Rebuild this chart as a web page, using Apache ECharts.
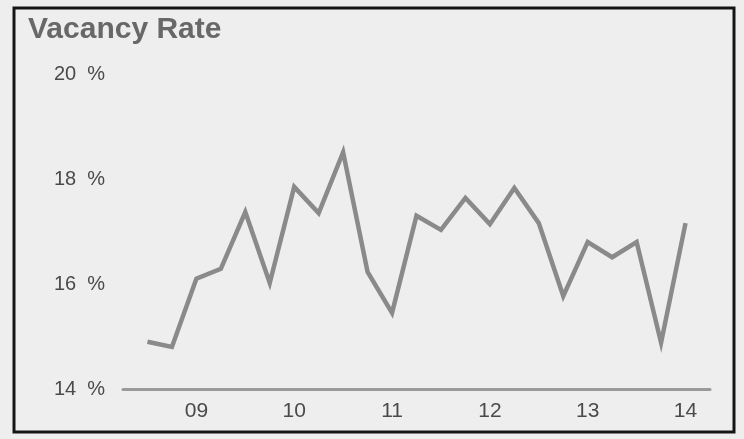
<!DOCTYPE html>
<html>
<head>
<meta charset="utf-8">
<title>Vacancy Rate</title>
<script src="https://cdn.jsdelivr.net/npm/echarts@6/dist/echarts.min.js"></script>
<style>
  html, body { margin: 0; padding: 0; background: #eeeeee; }
  #chart { width: 744px; height: 439px; }
</style>
</head>
<body>
<div id="chart"></div>
<script>
// Quarterly vacancy rate, Q3 2008 to Q1 2014
const quarters = [
  '08Q3', '08Q4',
  '09Q1', '09Q2', '09Q3', '09Q4',
  '10Q1', '10Q2', '10Q3', '10Q4',
  '11Q1', '11Q2', '11Q3', '11Q4',
  '12Q1', '12Q2', '12Q3', '12Q4',
  '13Q1', '13Q2', '13Q3', '13Q4',
  '14Q1'
];
const vacancyRate = [
  14.90, 14.80,
  16.10, 16.29, 17.37, 16.02,
  17.85, 17.35, 18.51, 16.23,
  15.45, 17.30, 17.03, 17.64,
  17.14, 17.83, 17.16, 15.77,
  16.80, 16.51, 16.80, 14.88,
  17.16
];
const yTicks = [14, 16, 18, 20];

// one empty slot on each side so the baseline runs a quarter past the data
const axisCats = [''].concat(quarters, ['']);
const seriesData = [null].concat(vacancyRate, [null]);

const chart = echarts.init(document.getElementById('chart'), null, { renderer: 'canvas' });

chart.setOption({
  backgroundColor: '#eeeeee',
  animation: false,
  title: {
    text: 'Vacancy Rate',
    left: 23,
    top: 10,
    textStyle: {
      fontFamily: 'Liberation Sans, Arial, sans-serif',
      fontSize: 30,
      fontWeight: 'bold',
      color: '#686868'
    }
  },
  grid: { left: 123, right: 34, top: 74, bottom: 50 },
  xAxis: {
    type: 'category',
    data: axisCats,
    boundaryGap: false,
    axisLine: { show: true, lineStyle: { color: '#9a9a9a', width: 3 } },
    axisTick: { show: false },
    splitLine: { show: false },
    axisLabel: {
      interval: function (idx, val) { return /Q1$/.test(val); },
      formatter: function (val) { return val.slice(0, 2); },
      margin: 12,
      fontFamily: 'Liberation Sans, Arial, sans-serif',
      fontSize: 21,
      color: '#4a4a4a'
    }
  },
  yAxis: {
    type: 'value',
    min: yTicks[0],
    max: yTicks[yTicks.length - 1],
    interval: 2,
    axisLine: { show: false },
    axisTick: { show: false },
    splitLine: { show: false },
    axisLabel: {
      formatter: '{value}  %',
      align: 'left',
      margin: 69,
      fontFamily: 'Liberation Sans, Arial, sans-serif',
      fontSize: 20,
      color: '#4a4a4a'
    }
  },
  series: [{
    type: 'line',
    data: seriesData,
    symbol: 'none',
    connectNulls: false,
    lineStyle: { color: '#8a8a8a', width: 4.5, join: 'miter', cap: 'butt' }
  }],
  graphic: [{
    type: 'rect',
    shape: { x: 14, y: 8, width: 720, height: 424 },
    style: { fill: 'none', stroke: '#151515', lineWidth: 3 },
    silent: true
  }]
});
</script>
</body>
</html>
